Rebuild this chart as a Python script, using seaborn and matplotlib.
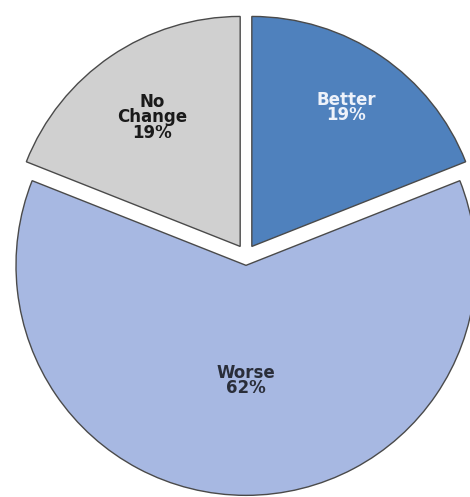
import numpy as np
import matplotlib
matplotlib.use("Agg")
import matplotlib.pyplot as plt
import seaborn as sns

categories = ["Better", "Worse", "No\nChange"]
values = [19, 62, 19]
colors = ["#4f81bd", "#a7b8e2", "#d0d0d0"]
text_colors = ["#eef2fa", "#2a2e3a", "#1a1a1a"]
label_dist = [0.73, 0.50, 0.68]

sns.set_theme(style="white")
plt.rcParams['font.family'] = ['DejaVu Sans']

fig = plt.figure(figsize=(4.70, 4.97), dpi=100)
ax = fig.add_axes([0, 0, 1, 1])
wedges, _ = ax.pie(values, colors=colors, startangle=90, counterclock=False,
                   explode=[0.045] * 3, radius=1.0,
                   wedgeprops=dict(edgecolor="#4a4a4a", linewidth=1.0))
for w, cat, v, tc, d in zip(wedges, categories, values, text_colors, label_dist):
    ang = np.deg2rad((w.theta1 + w.theta2) / 2)
    cx, cy = w.center
    ax.text(cx + d * np.cos(ang), cy + d * np.sin(ang), f"{cat}\n{v}%",
            ha="center", va="center", fontsize=12, fontweight="bold",
            color=tc, linespacing=0.82)
ax.set_xlim(-246 / 230, (470 - 246) / 230)
ax.set_ylim(-(497 - 255) / 230, 255 / 230)
ax.set_aspect("equal")
ax.axis("off")
fig.savefig("out.png", dpi=100)
